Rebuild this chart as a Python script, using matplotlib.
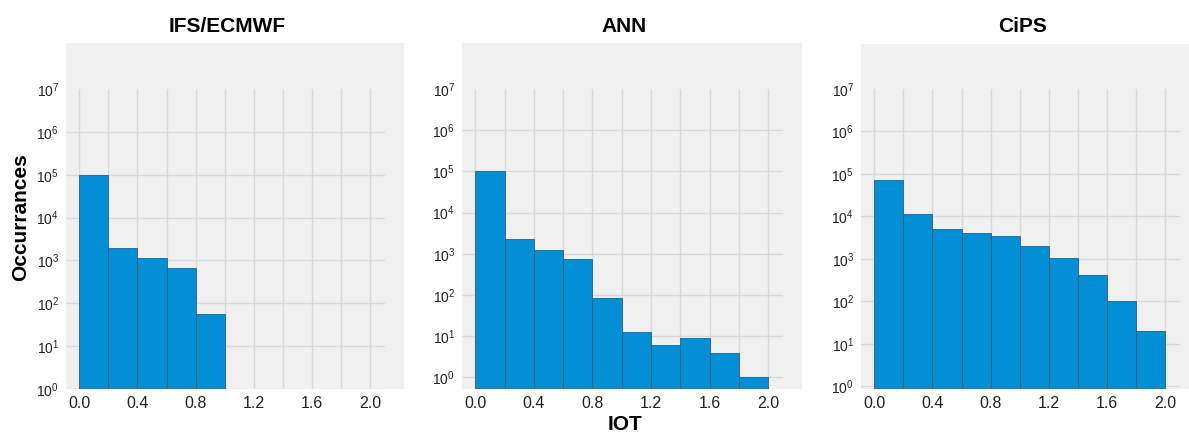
import numpy as np
import matplotlib
matplotlib.use('Agg')
import matplotlib.pyplot as plt
from matplotlib.patches import Rectangle

plt.rcParams['font.family'] = ['Liberation Sans', 'DejaVu Sans']

# bins of IOT (0.2 wide) and occurrences
bin_edges = [0.0, 0.2, 0.4, 0.6, 0.8, 1.0, 1.2, 1.4, 1.6, 1.8, 2.0]
ifs_counts = [1.0e5, 1950, 1150, 680, 55, 0, 0, 0, 0, 0]
ann_counts = [1.0e5, 2340, 1200, 760, 83, 12.3, 6, 9, 4, 1]
cips_counts = [7.4e4, 11200, 5200, 4100, 3400, 2050, 1030, 420, 100, 20]

titles = ['IFS/ECMWF', 'ANN', 'CiPS']
counts = [ifs_counts, ann_counts, cips_counts]
xticks = [0.0, 0.4, 0.8, 1.2, 1.6, 2.0]
ybottoms = [1.0, 0.52, 0.87]

W, H = 1189, 437
fig = plt.figure(figsize=(W / 100, H / 100), dpi=100)

# pixel boxes: axes (left, right) and grey background (left, right, top)
axes_px = [(66, 385), (462, 783), (861, 1180)]
bg_px = [(66, 404, 43), (462, 802, 43), (861, 1189, 44)]
top_px, bot_px = 89, 389

for i in range(3):
    l, r = axes_px[i]
    bl, br, bt = bg_px[i]
    bg = Rectangle((bl / W, 1 - bot_px / H), (br - bl) / W, (bot_px - bt) / H,
                   transform=fig.transFigure, facecolor='#f0f0f0',
                   edgecolor='none', zorder=-5)
    fig.patches.append(bg)
    ax = fig.add_axes([l / W, 1 - bot_px / H, (r - l) / W, (bot_px - top_px) / H])
    ax.set_zorder(2)
    ax.patch.set_visible(False)
    ax.hist(bin_edges[:-1], bins=bin_edges, weights=counts[i], log=True,
            color='#008fd5', edgecolor='#3d5a6e', linewidth=0.6, zorder=2)
    ax.set_xlim(-0.09, 2.1)
    ax.set_ylim(ybottoms[i], 1e7)
    ax.set_xticks(xticks)
    ax.set_xticks(bin_edges, minor=True)
    ax.set_yticks([10.0 ** k for k in range(8)])
    ax.yaxis.set_minor_locator(matplotlib.ticker.NullLocator())
    ax.grid(True, which='both', axis='x', color='#d9d9d9', linewidth=1, zorder=0)
    ax.grid(True, which='major', axis='y', color='#d9d9d9', linewidth=1, zorder=0)
    ax.yaxis.get_gridlines()[-1].set_visible(False)
    ax.set_axisbelow(True)
    for s in ax.spines.values():
        s.set_visible(False)
    ax.tick_params(axis='both', which='both', length=0, colors='#222222')
    ax.tick_params(axis='x', pad=5, labelsize=11.5)
    ax.tick_params(axis='y', pad=5, labelsize=10)
    fig.text(((l + r) / 2 + 2) / W, 1 - 26 / H, titles[i], ha='center', va='center',
             fontsize=15, fontweight='bold')

fig.text(21 / W, 1 - 217 / H, 'Occurrances', rotation=90, ha='center', va='center',
         fontsize=15, fontweight='bold')
fig.text(625 / W, 1 - 424 / H, 'IOT', ha='center', va='center',
         fontsize=15, fontweight='bold')

fig.savefig('out.png', dpi=100, facecolor='white')
